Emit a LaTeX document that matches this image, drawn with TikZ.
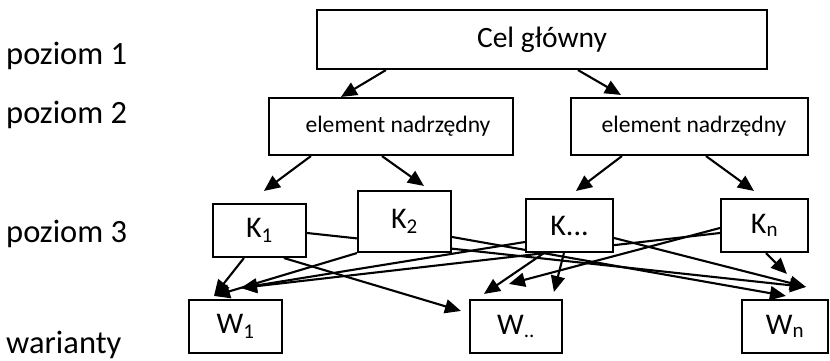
\documentclass[tikz,border=0pt]{standalone}
\usepackage{fontspec}
\setmainfont{Carlito}
\usepackage{tikz}
\usetikzlibrary{arrows.meta, backgrounds}
\tikzstyle{goal} = [rectangle, minimum width=450pt, minimum height=59pt, inner sep=0pt, text centered, draw=black, fill=white, line width=2.1pt, font=\fontsize{29.5}{35}\selectfont]
\tikzstyle{parent} = [rectangle, minimum height=57pt, inner sep=0pt, text centered, draw=black, fill=white, line width=2.1pt, font=\fontsize{23.6}{28}\selectfont]
\tikzstyle{crit} = [rectangle, minimum width=93pt, minimum height=53pt, inner sep=0pt, text centered, draw=black, fill=white, line width=2.1pt, font=\fontsize{30}{35}\selectfont]
\tikzstyle{variant} = [crit]
\tikzstyle{level} = [anchor=base west, inner sep=0pt, font=\fontsize{32.5}{38}\selectfont]
\tikzstyle{arrow} = [line width=2.1pt, -{Triangle[length=16pt,width=14pt]}]

\begin{document}
\begin{tikzpicture}[x=1pt, y=-1pt]
        \useasboundingbox (0,0) rectangle (830,361);

        % levels
        \node (lev1) [level] at (6,65) {poziom 1};
        \node (lev2) [level] at (6,123) {poziom 2};
        \node (lev3) [level] at (6,242) {poziom 3};
        \node (lev4) [level] at (6,353) {warianty};

        % boxes
        \node (cel) [goal] at (542,39.5) {Cel główny};
        \node (el1) [parent, minimum width=244pt] at (391,126.5) {\hspace*{14pt}element nadrzędny};
        \node (el2) [parent, minimum width=237pt] at (689.5,126.5) {\hspace*{9pt}element nadrzędny};
        \node (k1) [crit] at (259.5,230.5) {K\textsubscript{1}};
        \node (k2) [crit, minimum height=61pt] at (404.5,221.5) {K\textsubscript{2}};
        \node (k3) [crit, minimum width=87pt] at (569.5,225.5) {K...};
        \node (kn) [crit, minimum width=87pt] at (764.5,225.5) {K\textsubscript{n}};
        \node (w1) [variant] at (235.5,326.5) {W\textsubscript{1}};
        \node (w2) [variant, minimum width=92pt] at (516,326.5) {W\textsubscript{..}};
        \node (wn) [variant, minimum width=86pt] at (785,326.5) {W\textsubscript{n}};

        \begin{scope}[on background layer]
        \draw [arrow] ([xshift=70pt]cel.south west) -- ([xshift=73pt]el1.north west);
        \draw [arrow] ([xshift=262pt]cel.south west) -- ([xshift=51pt,yshift=2pt]el2.north west);
        \draw [arrow] ([xshift=43pt]el1.south west) -- ([xshift=52pt,yshift=12pt]k1.north west);
        \draw [arrow] ([xshift=114pt]el1.south west) -- ([xshift=67pt,yshift=4pt]k2.north west);
        \draw [arrow] ([xshift=52pt]el2.south west) -- ([xshift=51pt,yshift=7pt]k3.north west);
        \draw [arrow] ([xshift=136pt]el2.south west) -- ([xshift=34pt,yshift=7pt]kn.north west);

        \draw [arrow] ([xshift=32pt]k1.south west) -- ([xshift=26pt,yshift=3pt]w1.north west);
        \draw [arrow] (k2.south west) -- ([xshift=26pt,yshift=3pt]w1.north west);
        \draw [arrow] ([yshift=-16.5pt]k3.west) -- ([xshift=53pt,yshift=11pt]w1.north west);
        \draw [arrow] ([yshift=-7.5pt]kn.west) -- ([xshift=53pt,yshift=11pt]w1.north west);
        \draw [arrow] ([xshift=72pt]k1.south west) -- ([xshift=-8pt,yshift=-12pt]w2.north west);
        \draw [arrow] ([xshift=19pt]k3.south west) -- ([xshift=15pt,yshift=5pt]w2.north west);
        \draw [arrow] ([xshift=39pt]k3.south west) -- ([xshift=85pt,yshift=7pt]w2.north west);
        \draw [arrow] ([yshift=-2.5pt]kn.west) -- ([xshift=40pt,yshift=15pt]w2.north west);
        \draw [arrow] ([yshift=-2.5pt]k1.east) -- ([xshift=65pt,yshift=12pt]wn.north west);
        \draw [arrow] ([yshift=-15.5pt]k2.east) -- ([xshift=45pt,yshift=3pt]wn.north west);
        \draw [arrow] ([yshift=-12.5pt]k3.east) -- ([xshift=65pt,yshift=12pt]wn.north west);
        \draw [arrow] ([xshift=46pt]kn.south west) -- ([xshift=46pt,yshift=25pt]wn.north west);
        \end{scope}
\end{tikzpicture}
\end{document}
